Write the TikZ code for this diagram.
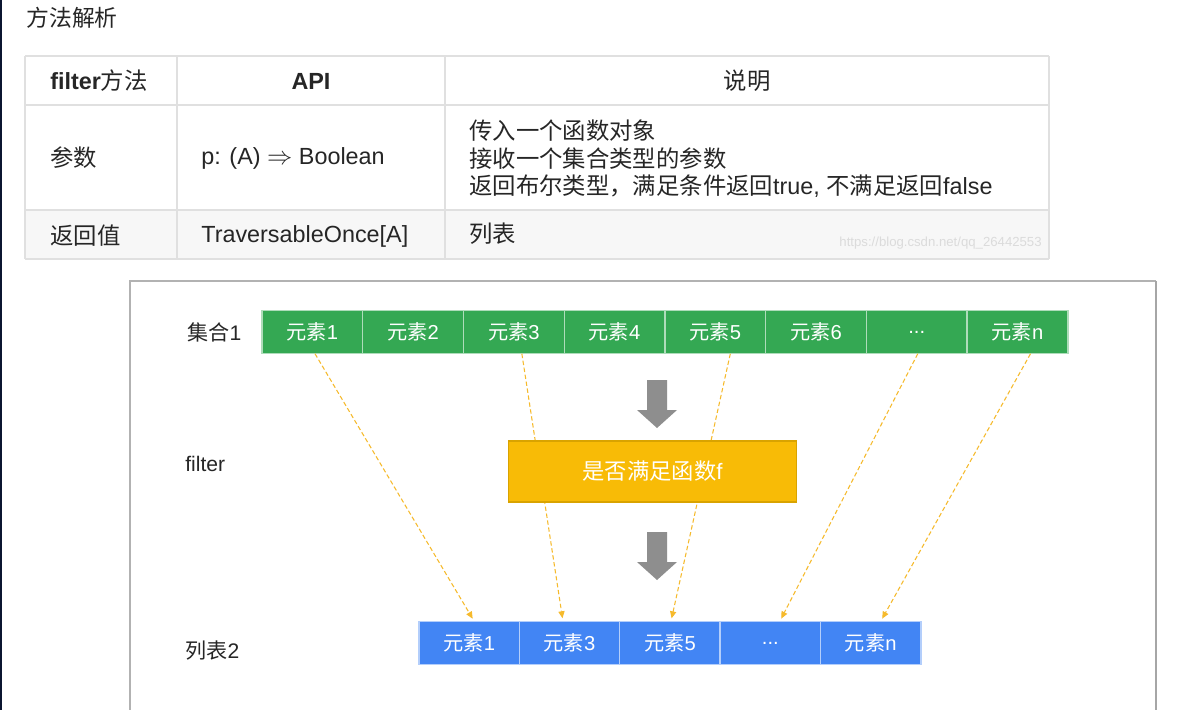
\documentclass[tikz,border=0pt]{standalone}
\usepackage{fontspec}
\setmainfont{Liberation Sans}
\newfontfamily\cjk{Noto Sans CJK SC}
\usetikzlibrary{positioning,calc,arrows.meta}
\definecolor{gridgray}{HTML}{E0E0E0}
\definecolor{rowgray}{HTML}{F7F7F7}
\definecolor{setgreen}{HTML}{34A853}
\definecolor{listblue}{HTML}{4285F4}
\definecolor{testyellow}{HTML}{F8BB06}
\definecolor{testedge}{HTML}{D9A300}
\definecolor{pathyellow}{HTML}{F6BA2C}
\definecolor{flowgray}{HTML}{8E8E8E}
\definecolor{pagenavy}{HTML}{0B1530}
\newcommand{\zh}[1]{{\cjk #1}}
\tikzset{
  tabtext/.style={inner sep=0pt, text=black!85, font=\fontsize{13.3}{15.6}\selectfont},
  setcell/.style={rectangle, fill=setgreen, draw=white!60!setgreen, line width=0.8pt,
    minimum width=2.015cm, minimum height=0.87cm, outer sep=0pt, text=white,
    font=\fontsize{11.5}{13}\selectfont},
  listcell/.style={setcell, fill=listblue, draw=white!60!listblue, minimum width=2.008cm},
  rowlabel/.style={anchor=west, inner sep=0pt, text=black!85, font=\fontsize{12}{14}\selectfont},
  pick/.style={pathyellow, line width=0.6pt, dash pattern=on 2.5pt off 1.5pt,
    -{Triangle[length=4pt,width=3.5pt]}, shorten >=1.7pt},
}
\begin{document}
\begin{tikzpicture}[x=0.02cm, y=-0.02cm]
        \useasboundingbox[fill=white] (0,0) rectangle (1184,710);
        \fill[pagenavy] (0,0) rectangle (2.5,710);
        \node[tabtext, anchor=west, font=\fontsize{13}{15}\selectfont] at (26,18) (title) {\zh{方法解析}};
        % table
        \fill[rowgray] (25,210) rectangle (1049,259);
        \draw[gridgray, line width=1.1pt] (25,56) -- (1049,56) (25,105) -- (1049,105)
            (25,210) -- (1049,210) (25,259) -- (1049,259);
        \draw[gridgray, line width=1.1pt] (25,56) -- (25,259) (177,56) -- (177,259)
            (445,56) -- (445,259) (1049,56) -- (1049,259);
        \node[tabtext, anchor=west] at (50,81) (hmethod) {\textbf{filter}\zh{方法}};
        \node[tabtext] at (311,81) (hapi) {\textbf{API}};
        \node[tabtext] at (747,81) (hnote) {\zh{说明}};
        \node[tabtext, anchor=west] at (50,158) (param) {\zh{参数}};
        \node[tabtext, anchor=west] at (201,158) (paramapi) {p: (A) $\Rightarrow$ Boolean};
        \node[tabtext, anchor=west, align=left] at (469,159) (paramnote)
            {\zh{传入一个函数对象}\\\zh{接收一个集合类型的参数}\\\zh{返回布尔类型，满足条件返回}true, \zh{不满足返回}false};
        \node[tabtext, anchor=west] at (50,236) (ret) {\zh{返回值}};
        \node[tabtext, anchor=west] at (201,236) (retapi) {TraversableOnce[A]};
        \node[tabtext, anchor=west] at (469,234) (retnote) {\zh{列表}};
        \node[anchor=east, inner sep=0pt, text=black!14, font=\fontsize{7.5}{9}\selectfont] at (1042,243) (mark) {https://blog.csdn.net/qq\_26442553};
        % lower panel
        \draw[black!30, line width=0.6pt] (130,712) -- (130,281) -- (1156,281);
        \draw[black!35, line width=1.2pt] (1156,281) -- (1156,712);
        \node[rowlabel] at (187,332) (lset) {\zh{集合}1};
        \node[rowlabel] at (185,464) (lfilter) {filter};
        \node[rowlabel] at (185,651) (llist) {\zh{列表}2};
        \node[setcell] at (312.4,332) (g1) {\zh{元素}1};
        \node[setcell, right=0pt of g1] (g2) {\zh{元素}2};
        \node[setcell, right=0pt of g2] (g3) {\zh{元素}3};
        \node[setcell, right=0pt of g3] (g4) {\zh{元素}4};
        \node[setcell, right=0pt of g4] (g5) {\zh{元素}5};
        \node[setcell, right=0pt of g5] (g6) {\zh{元素}6};
        \node[setcell, right=0pt of g6] (g7) {...};
        \node[setcell, right=0pt of g7] (gn) {\zh{元素}n};
        \node[listcell] at (469.2,643) (b1) {\zh{元素}1};
        \node[listcell, right=0pt of b1] (b3) {\zh{元素}3};
        \node[listcell, right=0pt of b3] (b5) {\zh{元素}5};
        \node[listcell, right=0pt of b5] (b7) {...};
        \node[listcell, right=0pt of b7] (bn) {\zh{元素}n};
        \draw[pick] ($(g1.south)+(2.6,0)$) -- ($(b1.north)+(5,0)$);
        \draw[pick] ($(g3.south)+(8,0)$) -- ($(b3.north)+(-6.6,0)$);
        \draw[pick] ($(g5.south)+(15,0)$) -- ($(b5.north)+(1,0)$);
        \draw[pick] ($(g7.south)+(1,0)$) -- ($(b7.north)+(9.5,0)$);
        \draw[pick] ($(gn.south)+(13,0)$) -- ($(bn.north)+(10,0)$);
        \node[rectangle, fill=testyellow, draw=testedge, line width=0.6pt, minimum width=5.76cm,
            minimum height=1.22cm, text=white, font=\fontsize{12.7}{15}\selectfont] at (652.5,471.5) (test) {\zh{是否满足函数}f};
        \fill[flowgray] (647,380) -- (667,380) -- (667,410) -- (677,410) -- (657,428) -- (637,410) -- (647,410) -- cycle;
        \fill[flowgray] (647,532) -- (667,532) -- (667,562) -- (677,562) -- (657,580) -- (637,562) -- (647,562) -- cycle;
    \end{tikzpicture}
\end{document}
